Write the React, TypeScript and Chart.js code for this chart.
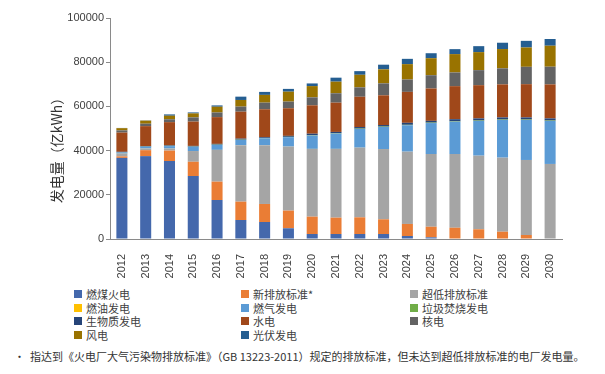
import React, { useEffect, useRef } from "react";
import { Chart, registerables } from "chart.js";

Chart.register(...registerables);

const years = ["2012","2013","2014","2015","2016","2017","2018","2019","2020","2021","2022","2023","2024","2025","2026","2027","2028","2029","2030"];

const coal = [36700,37500,35300,28500,17650,8600,7700,4850,2260,2260,2260,2260,1360,750,0,0,0,0,0];
const newStd = [700,2700,4700,6450,8300,8300,8150,8000,7850,7400,7550,6650,5450,4800,5100,4400,3300,1800,0];
const ultraLow = [1200,700,900,4850,14350,25500,26550,28950,30650,31100,31500,31800,32700,32900,33350,33300,33500,33950,33950];
const oil = [40,40,30,30,30,30,20,20,20,20,20,20,10,10,10,10,10,10,10];
const gas = [500,800,1100,1900,2250,2400,3150,4250,6000,6900,8450,9950,11950,14000,14600,15700,17050,18100,19450];
const waste = [60,80,100,100,120,130,140,150,160,170,180,190,200,200,200,200,200,200,200];
const biomass = [250,250,250,300,350,450,350,450,700,600,700,700,900,800,950,950,950,950,950];
const hydro = [8700,9000,10500,11000,12100,12200,12650,12500,12850,13250,13700,13450,14000,14650,14950,15050,14950,15050,15400];
const nuclear = [1000,1100,1300,1900,2100,2300,3000,3000,3600,4250,4250,5400,5600,6000,6200,6800,7250,7850,8000];
const wind = [1000,1400,1600,1800,2600,3000,3500,4500,5100,5250,5700,6350,6950,7700,8300,8150,8750,8750,9500];
const solar = [100,100,600,450,600,1500,1350,1250,1200,1800,1650,2100,2400,2250,2250,2700,2850,3000,3050];

const seriesNames = ["燃煤火电","新排放标准*","超低排放标准","燃油发电","燃气发电","垃圾焚烧发电","生物质发电","水电","核电","风电","光伏发电"];
const seriesColors = ["#4468AC","#EA7D35","#A5A5A5","#FFC000","#5B9BD5","#70AD47","#264478","#A0481A","#636363","#997300","#255E91"];
const seriesData = [coal,newStd,ultraLow,oil,gas,waste,biomass,hydro,nuclear,wind,solar];

const yTicks = [0,20000,40000,60000,80000,100000];
const yTitle = "发电量（亿kWh）";
const footnote = "指达到《火电厂大气污染物排放标准》（GB 13223-2011）规定的排放标准，但未达到超低排放标准的电厂发电量。";

const yTitlePlugin = {
  id: "yTitlePlugin",
  afterDraw(chart: any) {
    const ctx = chart.ctx;
    ctx.save();
    ctx.translate(57, 147);
    ctx.rotate(-Math.PI / 2);
    ctx.font = '14px "Noto Sans CJK SC"';
    ctx.fillStyle = "#333333";
    ctx.textAlign = "center";
    ctx.textBaseline = "middle";
    ctx.fillText(yTitle, 0, 0);
    ctx.restore();
  },
};

export default function App() {
  const ref = useRef<HTMLCanvasElement | null>(null);

  useEffect(() => {
    if (!ref.current) return;
    const chart = new Chart(ref.current, {
      type: "bar",
      data: {
        labels: years,
        datasets: seriesNames.map((name, i) => ({
          label: name,
          data: seriesData[i],
          backgroundColor: seriesColors[i],
          borderWidth: 0,
          categoryPercentage: 0.8,
          barPercentage: 0.58,
        })),
      },
      options: {
        animation: false,
        responsive: false,
        devicePixelRatio: 1,
        layout: { padding: { left: 0, top: 18, right: 43, bottom: 0 } },
        plugins: {
          legend: { display: false },
          tooltip: { enabled: false },
          title: { display: false },
        },
        scales: {
          x: {
            stacked: true,
            grid: { display: false },
            border: { display: true, color: "#8a8a8a", width: 1 },
            ticks: {
              autoSkip: false,
              minRotation: 90,
              maxRotation: 90,
              padding: 7,
              color: "#404040",
              font: { family: '"Liberation Sans", Arial, sans-serif', size: 11 },
            },
            afterFit: (scale: any) => {
              scale.height = 41;
            },
          },
          y: {
            stacked: true,
            min: 0,
            max: 100000,
            afterBuildTicks: (scale: any) => {
              scale.ticks = yTicks.map((v) => ({ value: v }));
            },
            grid: {
              display: true,
              drawOnChartArea: false,
              drawTicks: true,
              tickLength: 4,
              color: "#8a8a8a",
            },
            border: { display: true, color: "#8a8a8a", width: 1 },
            ticks: {
              padding: 2,
              color: "#404040",
              font: { family: '"Liberation Sans", Arial, sans-serif', size: 11 },
              callback: (v: any) => String(v),
            },
            afterFit: (scale: any) => {
              scale.width = 110;
            },
          },
        },
      },
      plugins: [yTitlePlugin],
    });
    return () => chart.destroy();
  }, []);

  const colX = [74, 241, 410];

  return (
    <div
      style={{
        position: "fixed",
        left: 0,
        top: 0,
        width: 605,
        height: 374,
        background: "#ffffff",
        overflow: "hidden",
      }}
    >
      <canvas
        ref={ref}
        width={605}
        height={280}
        style={{ position: "absolute", left: 0, top: 0, width: 605, height: 280 }}
      />
      {seriesNames.map((name, i) => {
        const col = i % 3;
        const row = Math.floor(i / 3);
        const cy = 294 + row * 13.6;
        return (
          <div
            key={name}
            style={{
              position: "absolute",
              left: colX[col],
              top: cy - 7,
              height: 14,
              display: "flex",
              alignItems: "center",
              whiteSpace: "nowrap",
            }}
          >
            <span
              style={{
                display: "inline-block",
                width: 8,
                height: 8,
                background: seriesColors[i],
                marginRight: 4,
              }}
            />
            <span
              style={{
                fontFamily: '"Noto Sans CJK SC", sans-serif',
                fontSize: 11,
                lineHeight: "14px",
                color: "#404040",
              }}
            >
              {name}
            </span>
          </div>
        );
      })}
      <div
        style={{
          position: "absolute",
          left: 14,
          top: 349,
          height: 14,
          whiteSpace: "nowrap",
          fontFamily: '"Noto Sans CJK SC", sans-serif',
          fontSize: 11,
          lineHeight: "14px",
          color: "#333333",
        }}
      >
        <span style={{ marginRight: 5 }}>•</span>
        {footnote}
      </div>
    </div>
  );
}
